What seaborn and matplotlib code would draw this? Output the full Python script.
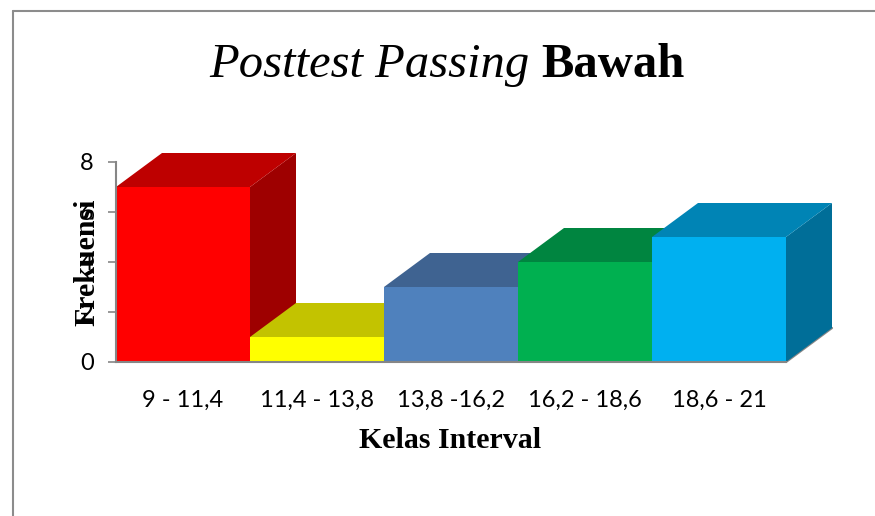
"""Posttest Passing Bawah - 3D style bar chart drawn on seaborn bars."""

import matplotlib

matplotlib.use("Agg")

import matplotlib.pyplot as plt
import seaborn as sns
from matplotlib.lines import Line2D
from matplotlib.patches import Polygon

classes = ["9 - 11,4", "11,4 - 13,8", "13,8 -16,2", "16,2 - 18,6", "18,6 - 21"]
frequencies = [7, 1, 3, 4, 5]
y_ticks = [0, 2, 4, 6, 8]
front_colors = ["#FF0000", "#FFFF00", "#4F81BD", "#00B050", "#00B0F0"]
top_colors = ["#BE0000", "#C3C300", "#3F6391", "#008540", "#0084B5"]
side_colors = ["#9E0000", "#A0A000", "#34527A", "#006E38", "#006E98"]

W, H = 875, 516
AX_LEFT, AX_RIGHT, AX_TOP, AX_BOTTOM = 116, 786, 162, 362
DEPTH_PX = (46, 34)
GRAY = "#868686"

sns.set_theme(style="white")

fig = plt.figure(figsize=(W / 100, H / 100), dpi=100)
ax = fig.add_axes(
    [
        AX_LEFT / W,
        1 - AX_BOTTOM / H,
        (AX_RIGHT - AX_LEFT) / W,
        (AX_BOTTOM - AX_TOP) / H,
    ]
)

sns.barplot(
    x=classes,
    y=frequencies,
    hue=classes,
    palette=front_colors,
    width=1.0,
    saturation=1,
    legend=False,
    linewidth=0,
    ax=ax,
)
ax.set_xlim(-0.5, len(classes) - 0.5)
ax.set_ylim(0, max(y_ticks))

# depth of the fake 3D box, converted to data units
dx = DEPTH_PX[0] * (len(classes)) / (AX_RIGHT - AX_LEFT)
dy = DEPTH_PX[1] * max(y_ticks) / (AX_BOTTOM - AX_TOP)

for i, (bar, top_c, side_c) in enumerate(zip(ax.patches, top_colors, side_colors)):
    x0, x1 = bar.get_x(), bar.get_x() + bar.get_width()
    h = bar.get_height()
    side = Polygon(
        [(x1, 0), (x1 + dx, dy), (x1 + dx, h + dy), (x1, h)],
        facecolor=side_c,
        edgecolor="none",
        clip_on=False,
        zorder=3 * i + 2,
    )
    top = Polygon(
        [(x0, h), (x0 + dx, h + dy), (x1 + dx, h + dy), (x1, h)],
        facecolor=top_c,
        edgecolor="none",
        clip_on=False,
        zorder=3 * i + 3,
    )
    ax.add_patch(side)
    ax.add_patch(top)
    bar.set_zorder(3 * i + 4)
    bar.set_clip_on(False)

# floor edge running back from the last bar
last = ax.patches[len(classes) - 1]
end = last.get_x() + last.get_width()
ax.plot([end, end + dx], [0, dy], color=GRAY, lw=1.6, clip_on=False, zorder=1)

for name in ["top", "right"]:
    ax.spines[name].set_visible(False)
for name in ["left", "bottom"]:
    ax.spines[name].set_color(GRAY)
    ax.spines[name].set_linewidth(1.5)
    ax.spines[name].set_zorder(40)

ax.set_yticks(y_ticks)
ax.set_yticklabels([str(t) for t in y_ticks], fontfamily="Lato", fontsize=17, color="black")
ax.tick_params(axis="y", left=True, length=6, width=1.2, color=GRAY, pad=10)
ax.tick_params(axis="x", bottom=False, pad=14)
for label in ax.get_xticklabels():
    label.set_fontfamily("Lato")
    label.set_fontsize(17)
    label.set_color("black")

fig.text(
    87 / W, 1 - 262 / H, "Frekuensi", rotation=90, ha="center", va="center",
    family="Liberation Serif", weight="bold", fontsize=21.5, color="black", zorder=50,
)
fig.text(
    450 / W, 1 - 440 / H, "Kelas Interval", ha="center", va="center",
    family="Liberation Serif", weight="bold", fontsize=21.5, color="black",
)
fig.text(
    530 / W, 1 - 77 / H, "Posttest Passing", ha="right", va="baseline",
    family="Liberation Serif", style="italic", fontsize=35, color="black",
)
fig.text(
    541 / W, 1 - 77 / H, "Bawah", ha="left", va="baseline",
    family="Liberation Serif", weight="bold", fontsize=35, color="black",
)

# outer frame, only left and top edges are in view
fig.add_artist(Line2D([13 / W, 13 / W], [0, 1 - 11 / H], color="#8C8C8C", lw=1.5))
fig.add_artist(Line2D([13 / W, 1], [1 - 11 / H, 1 - 11 / H], color="#8C8C8C", lw=1.5))

fig.savefig("out.png", dpi=100)
